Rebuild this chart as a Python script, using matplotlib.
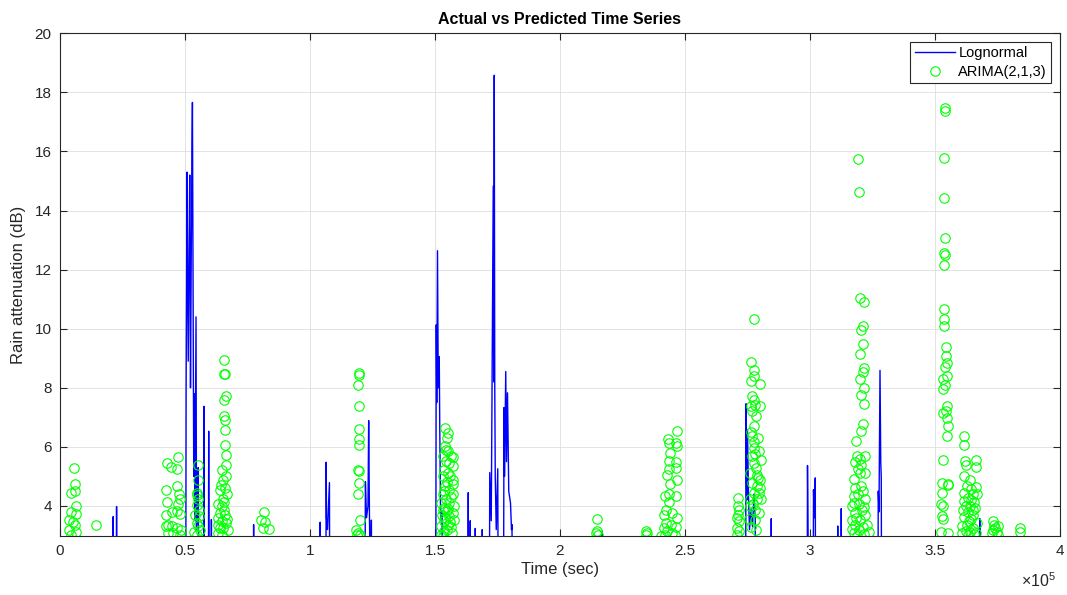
import numpy as np
import matplotlib
matplotlib.use("Agg")
import matplotlib.pyplot as plt
from matplotlib.ticker import FuncFormatter

plt.rcParams['font.family'] = ['Liberation Sans', 'DejaVu Sans']
plt.rcParams['mathtext.fontset'] = 'custom'
plt.rcParams['mathtext.rm'] = 'Liberation Sans'

# ---------------- data (time in units of 1e5 s) ----------------
lognormal_time = [
    0.0000, 0.2110, 0.2128, 0.2140, 0.2250, 0.2263, 0.2275,
    0.5030, 0.5045, 0.5082, 0.5100, 0.5130, 0.5160, 0.5190, 0.5220, 0.5250, 0.5280, 0.5297,
    0.5320, 0.5350, 0.5380, 0.5400, 0.5441, 0.5460, 0.5480, 0.5510, 0.5530, 0.5550,
    0.5745, 0.5760, 0.5775, 0.5935, 0.5948, 0.5962, 0.6043, 0.6056, 0.6068,
    0.7733, 0.7745, 0.7757,
    1.0395, 1.0407, 1.0419, 1.0635, 1.0647, 1.0660, 1.0700, 1.0778, 1.0790,
    1.2195, 1.2216, 1.2260, 1.2320, 1.2347, 1.2380, 1.2440, 1.2455, 1.2470,
    1.5030, 1.5050, 1.5070, 1.5100, 1.5130, 1.5170, 1.5190, 1.5220, 1.5250, 1.5280, 1.5300,
    1.6315, 1.6330, 1.6345, 1.6395, 1.6410, 1.6425, 1.6595, 1.6610, 1.6625, 1.6875, 1.6890, 1.6905,
    1.7175, 1.7190, 1.7250, 1.7330, 1.7350, 1.7370, 1.7390, 1.7410, 1.7450, 1.7510, 1.7530,
    1.7740, 1.7760, 1.7780, 1.7830, 1.7860, 1.7900, 1.7950, 1.8020, 1.8060, 1.8080, 1.8095,
    2.1675, 2.1690, 2.1705,
    2.7425, 2.7440, 2.7470, 2.7500, 2.7540, 2.7580, 2.7640, 2.7700, 2.7760, 2.7810, 2.7825,
    2.8435, 2.8450, 2.8465,
    2.9885, 2.9900, 2.9920, 2.9960, 3.0125, 3.0140, 3.0170, 3.0210, 3.0225,
    3.1095, 3.1110, 3.1125, 3.1235, 3.1250, 3.1265,
    3.2715, 3.2730, 3.2760, 3.2800, 3.2830, 3.2850, 3.2865,
    3.6775, 3.6790, 3.6805, 4.0000,
]
lognormal_atten = [
    0, 0, 3.64, 0, 0, 3.98, 0,
    0, 8.0, 15.3, 12.0, 8.9, 12.5, 15.2, 8.0, 12.5, 16.2, 17.66,
    12.0, 5.0, 7.8, 3.5, 10.4, 3.2, 4.6, 3.4, 5.3, 0,
    0, 7.37, 0, 0, 6.53, 0, 0, 3.54, 0,
    0, 3.37, 0,
    0, 3.45, 0, 0, 5.48, 3.6, 3.2, 4.79, 0,
    0, 4.82, 3.6, 4.0, 6.89, 3.5, 0, 3.52, 0,
    0, 10.13, 7.5, 12.64, 8.0, 9.06, 6.69, 4.0, 3.5, 3.8, 0,
    0, 4.45, 0, 0, 3.5, 0, 0, 3.24, 0, 0, 3.2, 0,
    0, 5.13, 3.5, 14.83, 8.2, 18.58, 8.16, 5.0, 3.2, 5.26, 0,
    0, 7.33, 5.0, 8.55, 5.5, 7.83, 4.5, 4.1, 3.2, 3.37, 0,
    0, 3.15, 0,
    0, 7.46, 4.2, 6.58, 4.33, 3.2, 3.9, 3.3, 4.4, 3.54, 0,
    0, 3.57, 0,
    0, 5.37, 3.3, 0, 0, 4.55, 3.6, 4.95, 0,
    0, 3.32, 0, 0, 3.91, 0,
    0, 4.5, 3.8, 8.59, 5.5, 4.96, 0,
    0, 3.57, 0, 0,
]

arima_time = [
    0.0559, 0.0587, 0.0439, 0.0587, 0.0627, 0.0439, 0.0627, 0.0359, 0.0519, 0.0599, 0.0359, 0.0627, 0.0439,
    0.1425,
    0.426, 0.443, 0.470, 0.468, 0.424, 0.468, 0.475, 0.426, 0.479, 0.472, 0.446, 0.423, 0.466, 0.479,
    0.432, 0.423, 0.446, 0.466, 0.432, 0.452, 0.479, 0.483,
    0.550, 0.550, 0.546, 0.548, 0.552, 0.546, 0.555, 0.539, 0.555, 0.546, 0.552, 0.536, 0.559, 0.546,
    0.656, 0.661, 0.657, 0.663, 0.656, 0.656, 0.661, 0.661, 0.661, 0.663, 0.663, 0.646, 0.665, 0.652,
    0.639, 0.659, 0.669, 0.632, 0.646, 0.656, 0.639, 0.659, 0.632, 0.646, 0.665, 0.630, 0.652, 0.672,
    0.632, 0.646, 0.650, 0.644, 0.655, 0.668, 0.640,
    0.816, 0.805, 0.818, 0.812, 0.834,
    1.195, 1.197, 1.192, 1.194, 1.195, 1.195, 1.194, 1.191, 1.195, 1.194, 1.191, 1.198, 1.184, 1.191,
    1.198, 1.188,
    1.541, 1.553, 1.546, 1.541, 1.553, 1.570, 1.533, 1.544, 1.557, 1.573, 1.537, 1.550, 1.530, 1.570,
    1.573, 1.541, 1.557, 1.530, 1.570, 1.544, 1.524, 1.557, 1.577, 1.537, 1.546, 1.570, 1.528, 1.557,
    1.577, 1.537, 1.550, 1.524, 1.564, 1.537, 1.524, 1.530,
    1.560, 1.548, 1.535, 1.565, 1.552, 1.540, 1.560, 1.548, 1.567, 1.533, 1.562, 1.545,
    2.149, 2.149, 2.145, 2.151,
    2.343, 2.347, 2.343, 2.402,
    2.432, 2.435, 2.466, 2.464, 2.466, 2.438, 2.435, 2.464, 2.464, 2.435, 2.428, 2.466, 2.438, 2.419,
    2.435, 2.464, 2.435, 2.422, 2.415, 2.448, 2.468, 2.422, 2.442, 2.415, 2.464, 2.428, 2.448, 2.419,
    2.460,
    2.712, 2.711, 2.715, 2.708, 2.715, 2.708, 2.715, 2.708, 2.711,
    2.776, 2.765, 2.777, 2.774, 2.765, 2.798, 2.768, 2.774, 2.762, 2.781, 2.801, 2.768, 2.784, 2.774,
    2.762, 2.768, 2.777, 2.774, 2.797, 2.768, 2.805, 2.774, 2.761, 2.788, 2.801, 2.768, 2.788, 2.801,
    2.774, 2.761, 2.788, 2.805, 2.758, 2.781, 2.794, 2.754, 2.781,
    2.785, 2.790, 2.770, 2.795, 2.780, 2.790, 2.765, 2.785,
    3.190, 3.194, 3.200, 3.214, 3.211, 3.204, 3.211, 3.200, 3.214, 3.210, 3.198, 3.214, 3.204, 3.216,
    3.210, 3.204, 3.183, 3.187, 3.218, 3.180, 3.204, 3.174, 3.200, 3.220, 3.180, 3.204, 3.174, 3.220,
    3.194, 3.167, 3.207, 3.180, 3.220, 3.167, 3.200, 3.180, 3.227, 3.167, 3.194, 3.187, 3.234,
    3.190, 3.210, 3.175, 3.215, 3.185, 3.210, 3.200, 3.190, 3.175, 3.215,
    3.540, 3.540, 3.537, 3.536, 3.540, 3.537, 3.540, 3.537, 3.537, 3.536, 3.536, 3.544, 3.542, 3.546,
    3.540, 3.546, 3.533, 3.540, 3.533, 3.549, 3.530, 3.544, 3.546, 3.550, 3.549, 3.530, 3.526, 3.550,
    3.550, 3.526, 3.524, 3.530, 3.526, 3.530, 3.524, 3.553,
    3.617, 3.617, 3.662, 3.620, 3.662, 3.622, 3.617, 3.639, 3.626, 3.662, 3.643, 3.617, 3.653, 3.666,
    3.633, 3.617, 3.657, 3.639, 3.660, 3.613, 3.630, 3.653, 3.617, 3.643, 3.666, 3.626, 3.609, 3.653,
    3.622, 3.639, 3.662, 3.609, 3.645, 3.635, 3.650, 3.625, 3.655, 3.630,
    3.730, 3.737, 3.750, 3.733, 3.746, 3.726, 3.750, 3.740,
    3.839, 3.839,
]
arima_atten = [
    5.28, 4.76, 4.45, 4.49, 3.99, 3.81, 3.72, 3.51, 3.45, 3.34, 3.17, 3.11, 3.03,
    3.34,
    5.44, 5.31, 5.65, 5.26, 4.53, 4.67, 4.42, 4.12, 4.22, 4.08, 3.79, 3.71, 3.82, 3.74,
    3.37, 3.32, 3.32, 3.27, 3.07, 3.09, 3.03, 3.20,
    5.38, 4.89, 4.44, 4.37, 4.22, 4.02, 3.86, 3.71, 3.65, 3.43, 3.32, 3.11, 3.20, 3.03,
    8.95, 8.48, 8.47, 7.73, 7.60, 7.03, 6.92, 6.58, 6.05, 5.74, 5.38, 5.23, 5.00, 4.89,
    4.53, 4.61, 4.42, 4.08, 3.99, 3.88, 3.77, 3.71, 3.60, 3.48, 3.43, 3.34, 3.26, 3.18,
    3.09, 3.03, 4.25, 4.70, 4.15, 3.55, 3.25,
    3.80, 3.54, 3.45, 3.26, 3.23,
    8.50, 8.45, 8.09, 7.38, 6.61, 6.27, 6.05, 5.23, 5.18, 4.78, 4.39, 3.54, 3.20, 3.09,
    3.03, 3.03,
    6.64, 6.47, 6.30, 6.02, 5.85, 5.66, 5.68, 5.51, 5.46, 5.34, 5.23, 5.12, 5.00, 4.89,
    4.76, 4.67, 4.55, 4.42, 4.39, 4.24, 4.10, 4.10, 3.99, 3.94, 3.82, 3.77, 3.71, 3.65,
    3.54, 3.48, 3.37, 3.32, 3.29, 3.15, 3.03, 3.00,
    5.00, 4.80, 4.50, 4.30, 3.90, 3.60, 3.45, 3.20, 3.10, 3.85, 5.70, 5.90,
    3.56, 3.15, 3.07, 3.02,
    3.15, 3.08, 3.02, 3.00,
    6.27, 6.13, 6.53, 6.13, 6.02, 5.80, 5.51, 5.48, 5.29, 5.25, 5.06, 4.89, 4.76, 4.33,
    4.39, 4.33, 4.13, 3.88, 3.71, 3.77, 3.60, 3.43, 3.37, 3.26, 3.29, 3.15, 3.09, 3.03,
    3.03,
    4.28, 3.99, 3.88, 3.60, 3.48, 3.26, 3.15, 3.03, 3.70,
    10.33, 8.89, 8.61, 8.39, 8.22, 8.13, 7.71, 7.57, 7.37, 7.43, 7.37, 7.20, 7.03, 6.72,
    6.49, 6.36, 6.17, 5.96, 5.85, 5.70, 5.57, 5.46, 5.12, 5.06, 4.89, 4.78, 4.67, 4.61,
    4.44, 4.22, 4.22, 4.22, 3.99, 3.88, 3.77, 3.56, 3.54,
    5.30, 4.95, 4.05, 4.45, 5.75, 6.30, 3.30, 3.20,
    15.74, 14.63, 11.03, 10.89, 10.08, 9.96, 9.49, 9.15, 8.67, 8.55, 8.30, 7.99, 7.77, 7.46,
    6.79, 6.53, 6.19, 5.68, 5.68, 5.48, 5.40, 4.92, 5.12, 5.10, 4.61, 4.67, 4.33, 4.22,
    4.08, 3.99, 3.88, 3.77, 3.71, 3.54, 3.54, 3.37, 3.37, 3.23, 3.20, 3.00, 3.11,
    4.40, 4.50, 4.10, 3.95, 3.60, 3.30, 5.60, 5.25, 3.10, 3.05,
    17.46, 17.38, 15.77, 14.44, 13.08, 12.56, 12.48, 12.16, 10.67, 10.33, 10.08, 9.37, 9.08, 8.84,
    8.72, 8.41, 8.30, 8.10, 7.96, 7.39, 7.15, 7.20, 6.98, 6.69, 6.38, 5.55, 4.78, 4.76,
    4.72, 4.44, 4.08, 3.99, 3.65, 3.55, 3.11, 3.07,
    6.36, 6.08, 5.57, 5.51, 5.32, 5.40, 5.00, 4.89, 4.69, 4.65, 4.56, 4.44, 4.42, 4.39,
    4.27, 4.16, 4.13, 3.99, 3.94, 3.86, 3.79, 3.71, 3.63, 3.56, 3.43, 3.37, 3.32, 3.26,
    3.15, 3.11, 3.09, 3.07, 4.20, 3.50, 3.85, 4.00, 3.05, 3.02,
    3.48, 3.37, 3.32, 3.20, 3.11, 3.07, 3.03, 3.25,
    3.26, 3.11,
]

x_ticks = [0, 0.5, 1, 1.5, 2, 2.5, 3, 3.5, 4]
y_ticks = [4, 6, 8, 10, 12, 14, 16, 18, 20]

# ---------------- figure ----------------
fig = plt.figure(figsize=(10.67, 5.95), dpi=100)
ax = fig.add_axes([60 / 1067, 1 - 535.5 / 595, 1000 / 1067, 502.2 / 595])

t_line = np.array(lognormal_time) * 1e5
t_pts = np.array(arima_time) * 1e5

ax.plot(t_line, lognormal_atten, color='#0000FF', lw=1.0, label='Lognormal')
ax.plot(t_pts, arima_atten, linestyle='none', marker='o', markersize=6.8,
        markerfacecolor='none', markeredgecolor='#00FF00', markeredgewidth=0.8,
        label='ARIMA(2,1,3)')

ax.set_xlim(0, 4e5)
ax.set_ylim(3, 20)
ax.set_xticks([v * 1e5 for v in x_ticks])
ax.set_yticks(y_ticks)
ax.xaxis.set_major_formatter(FuncFormatter(lambda v, _: f'{v / 1e5:g}'))

ax.grid(True, color='#dedede', linewidth=0.6)
ax.set_axisbelow(True)
for s in ax.spines.values():
    s.set_color('#262626')
    s.set_linewidth(0.8)
ax.tick_params(direction='in', top=True, right=True, length=5, width=0.8,
               colors='#262626', labelsize=11, pad=6)

ax.set_title('Actual vs Predicted Time Series', fontsize=11.5, fontweight='bold',
             color='black', pad=7)
ax.set_xlabel('Time (sec)', fontsize=12, color='#262626', labelpad=3)
ax.set_ylabel('Rain attenuation (dB)', fontsize=12, color='#262626', labelpad=6)

fig.text(1038 / 1067, 1 - 581 / 595, r'$\times10^{5}$', fontsize=11.5, color='#262626',
         ha='center', va='center')

leg = ax.legend(loc='upper right', fontsize=10.5, frameon=True, fancybox=False,
                edgecolor='#262626', framealpha=1, borderpad=0.3, labelspacing=0.3,
                handlelength=2.8, handletextpad=0.2, borderaxespad=0.6)
leg.get_frame().set_linewidth(0.8)

fig.savefig('out.png', dpi=100)
